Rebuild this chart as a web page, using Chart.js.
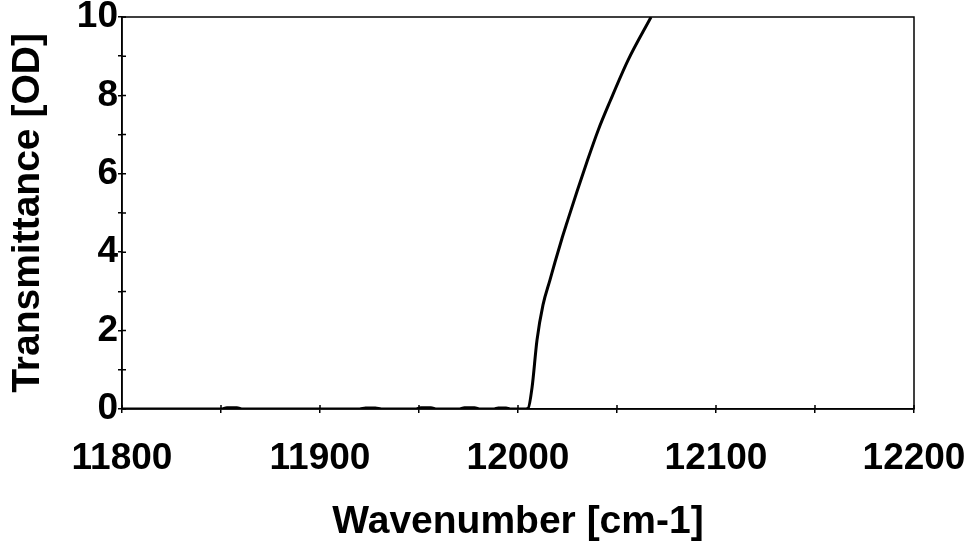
<!DOCTYPE html>
<html>
<head>
<meta charset="utf-8">
<script src="https://cdn.jsdelivr.net/npm/chart.js@4"></script>
<style>
  body { margin: 0; background: #fff; }
  #wrap { width: 974px; height: 543px; }
</style>
</head>
<body>
<div id="wrap"><canvas id="chart"></canvas></div>
<script>
// values
const wavenumber = [11800, 11850, 11853, 11858, 11861, 11920, 11923, 11928, 11931, 11948, 11951, 11956, 11959,
    11970, 11973, 11978, 11981, 11988, 11990, 11994, 11996, 12003, 12005.1, 12007.1, 12009.6, 12012.6,
    12016.2, 12018.7, 12022.2, 12024.7, 12029.8, 12034.8, 12040.4, 12046.5, 12055.6, 12067.2];
const transmittance = [0, 0, 0.03, 0.03, 0, 0, 0.025, 0.025, 0, 0, 0.03, 0.03, 0,
    0, 0.03, 0.03, 0, 0, 0.025, 0.025, 0, 0, 0.02, 0.55, 1.76, 2.65,
    3.30, 3.75, 4.35, 4.75, 5.55, 6.30, 7.10, 7.85, 8.90, 10.0];
const xTicks = [11800, 11900, 12000, 12100, 12200];
const yTicks = [0, 2, 4, 6, 8, 10];

const tickFont = { family: 'Liberation Sans, Arial, sans-serif', size: 37, weight: 'bold' };
const titleFont = { family: 'Liberation Sans, Arial, sans-serif', size: 39, weight: 'bold' };

// frame + inner half of the tick marks
const framePlugin = {
    id: 'frame',
    afterDraw(chart) {
        const ctx = chart.ctx;
        const a = chart.chartArea;
        ctx.save();
        ctx.strokeStyle = '#000';
        ctx.lineWidth = 1.5;
        ctx.strokeRect(a.left, a.top, a.right - a.left, a.bottom - a.top);
        ctx.beginPath();
        chart.scales.x.ticks.forEach(t => {
            const px = chart.scales.x.getPixelForValue(t.value);
            ctx.moveTo(px, a.bottom);
            ctx.lineTo(px, a.bottom - 4);
        });
        chart.scales.y.ticks.forEach(t => {
            const py = chart.scales.y.getPixelForValue(t.value);
            ctx.moveTo(a.left, py);
            ctx.lineTo(a.left + 4, py);
        });
        ctx.stroke();
        ctx.restore();
    }
};

new Chart(document.getElementById('chart'), {
    type: 'line',
    data: {
        datasets: [{
            data: wavenumber.map((w, i) => ({ x: w, y: transmittance[i] })),
            borderColor: '#000',
            borderWidth: 3,
            pointRadius: 0,
            cubicInterpolationMode: 'monotone',
            fill: false
        }]
    },
    options: {
        responsive: true,
        maintainAspectRatio: false,
        animation: false,
        devicePixelRatio: 1,
        layout: { padding: { top: 17, right: 60, left: 0, bottom: 0 } },
        plugins: { legend: { display: false }, tooltip: { enabled: false } },
        scales: {
            x: {
                type: 'linear',
                min: 11800,
                max: 12200,
                afterFit: s => { s.height = 134; s.paddingLeft = 0; s.paddingRight = 0; },
                ticks: {
                    stepSize: 50,
                    maxRotation: 0,
                    autoSkip: false,
                    padding: 24,
                    color: '#000',
                    font: tickFont,
                    callback: v => xTicks.includes(v) ? String(v) : ''
                },
                grid: { drawOnChartArea: false, tickLength: 4, color: '#000', lineWidth: 1.5 },
                border: { color: '#000', width: 1.5 },
                title: { display: true, text: 'Wavenumber [cm-1]', color: '#000', font: titleFont, padding: { top: 0, bottom: -3 } }
            },
            y: {
                min: 0,
                max: 10,
                afterFit: s => { s.width = 122; s.paddingTop = 0; s.paddingBottom = 0; },
                ticks: {
                    stepSize: 1,
                    autoSkip: false,
                    padding: 0,
                    color: '#000',
                    font: tickFont,
                    callback: v => yTicks.includes(v) ? String(v) : ''
                },
                grid: { drawOnChartArea: false, tickLength: 4, color: '#000', lineWidth: 1.5 },
                border: { color: '#000', width: 1.5 },
                title: { display: true, text: 'Transmittance [OD]', color: '#000', font: titleFont, padding: { top: 5, bottom: 0 } }
            }
        }
    },
    plugins: [framePlugin]
});
</script>
</body>
</html>
